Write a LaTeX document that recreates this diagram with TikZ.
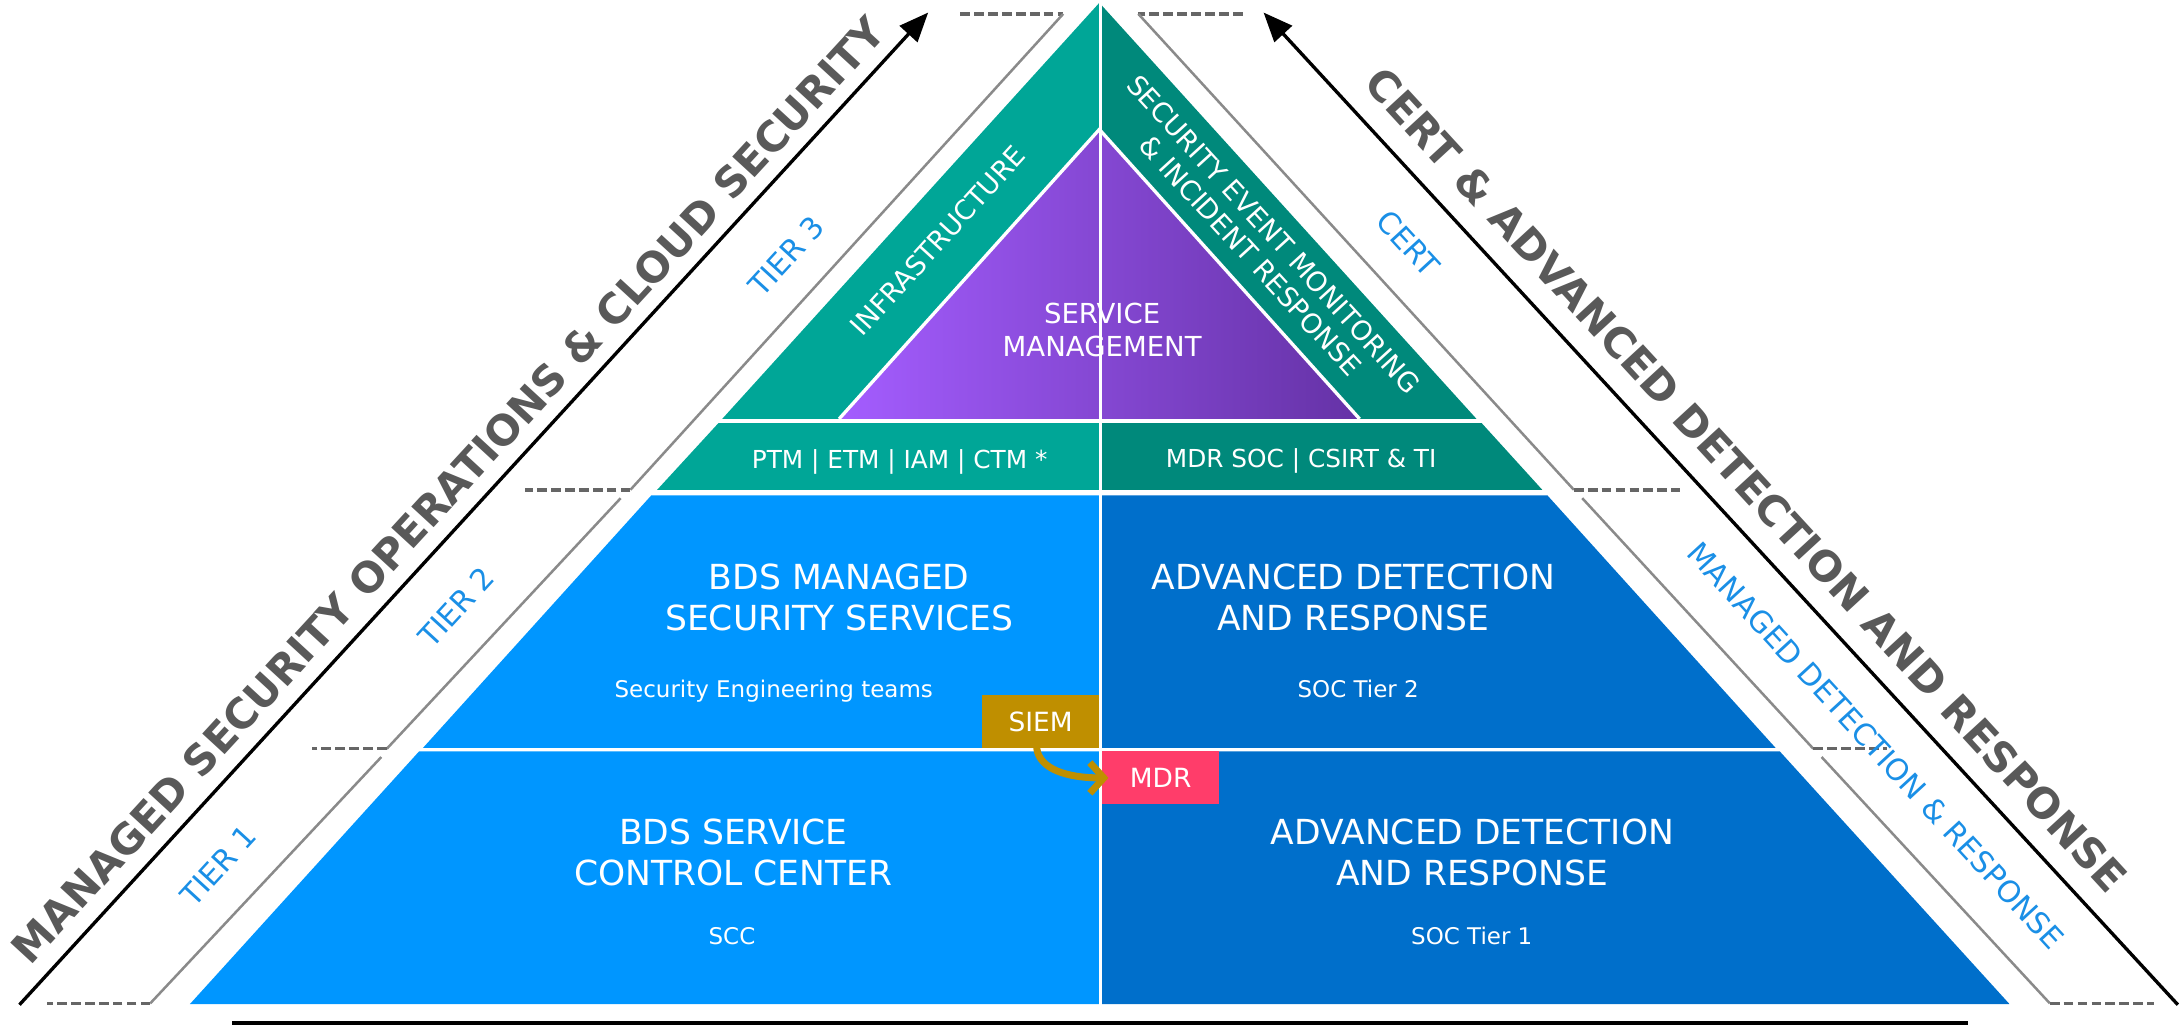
\documentclass[tikz,border=0pt]{standalone}
\usepackage{fontspec}
\setmainfont{DejaVu Sans}
\usetikzlibrary{arrows.meta}
\definecolor{blueL}{HTML}{0096FF}
\definecolor{blueR}{HTML}{006FCB}
\definecolor{tealL}{HTML}{00A697}
\definecolor{tealR}{HTML}{00897B}
\definecolor{purpleL}{HTML}{A45DFF}
\definecolor{purpleM}{HTML}{8A4AE2}
\definecolor{purpleR}{HTML}{6532A6}
\definecolor{siemgold}{HTML}{BF8F00}
\definecolor{mdrred}{HTML}{FF3D6A}
\definecolor{tierblue}{HTML}{1A8FE6}
\definecolor{titlegray}{HTML}{595959}
\definecolor{brgray}{HTML}{8A8A8A}
\definecolor{dashgray}{HTML}{666666}
\definecolor{baseline}{HTML}{404040}
\begin{document}
\begin{tikzpicture}[x=1pt,y=-1pt,
  boxtitle/.style={text=white, font={\fontsize{24.8}{29.5}\selectfont}, align=center, inner sep=0pt},
  boxsub/.style={text=white, font={\fontsize{16.5}{20}\selectfont}, inner sep=0pt, anchor=base},
  stripfont/.style={text=white, font={\fontsize{17.8}{20}\selectfont}, inner sep=0pt, anchor=base},
  bandtext/.style={text=white, font={\fontsize{19.5}{22.5}\selectfont}, align=center, inner sep=0pt},
  tierlbl/.style={text=tierblue, font={\fontsize{21.5}{24}\selectfont}, inner sep=0pt},
  bigtitle/.style={text=titlegray, font={\bfseries\fontsize{30}{36}\selectfont}, inner sep=0pt},
  tagbox/.style={text=white, font={\fontsize{19}{22}\selectfont}, minimum width=84.5pt, minimum height=38pt, inner sep=0pt},
  bracketline/.style={draw=brgray, line width=1.8pt},
  bracketdash/.style={draw=dashgray, line width=2.6pt, dash pattern=on 7pt off 3pt},
  mainarrow/.style={draw=black, line width=2.4pt, -{Triangle[length=21pt,width=17pt]}},
  sep/.style={draw=white, line width=2.4pt}
]
\useasboundingbox (0,0) rectangle (1568,737);

% ---- pyramid tiers ----
\fill[tealL] (790,2) -- (790,301) -- (519,301) -- cycle;
\fill[tealR] (790,2) -- (1061,301) -- (790,301) -- cycle;
\fill[tealL] (516.3,304) -- (790,304) -- (790,352) -- (472.2,352) -- cycle;
\fill[tealR] (790,304) -- (1064.7,304) -- (1108.3,352) -- (790,352) -- cycle;
\fill[blueL] (468,356) -- (790,356) -- (790,537.5) -- (303.9,537.5) -- cycle;
\fill[blueR] (790,356) -- (1112,356) -- (1276,537.5) -- (790,537.5) -- cycle;
\fill[blueL] (301.1,540) -- (790,540) -- (790,721.5) -- (136.5,721.5) -- cycle;
\fill[blueR] (790,540) -- (1279,540) -- (1444,721.5) -- (790,721.5) -- cycle;

% inner service management triangle
\shade[left color=purpleL, middle color=purpleM, right color=purpleR] (790,93) -- (977,301) -- (603,301) -- cycle;
\draw[sep, line join=miter] (603,301) -- (790,93) -- (977,301);
\draw[sep] (790.8,0) -- (790.8,722);

% ---- brackets left ----
\coordinate (l3a) at (690,10);  \coordinate (l3b) at (764,10);
\coordinate (l3c) at (453,352); \coordinate (l3d) at (377,352);
\draw[bracketdash] (l3a) -- (l3b);
\draw[bracketline] (l3b) -- (l3c);
\draw[bracketdash] (l3c) -- (l3d);
\coordinate (l2a) at (446,358); \coordinate (l2b) at (278,538); \coordinate (l2c) at (224,538);
\draw[bracketline] (l2a) -- (l2b);
\draw[bracketdash] (l2b) -- (l2c);
\coordinate (l1a) at (274,544); \coordinate (l1b) at (108,721); \coordinate (l1c) at (34,721);
\draw[bracketline] (l1a) -- (l1b);
\draw[bracketdash] (l1b) -- (l1c);
% ---- brackets right ----
\coordinate (r3a) at (893,10);  \coordinate (r3b) at (818,10);
\coordinate (r3c) at (1131,352); \coordinate (r3d) at (1207,352);
\draw[bracketdash] (r3a) -- (r3b);
\draw[bracketline] (r3b) -- (r3c);
\draw[bracketdash] (r3c) -- (r3d);
\coordinate (r2a) at (1137,358); \coordinate (r2b) at (1303,538); \coordinate (r2c) at (1356,538);
\draw[bracketline] (r2a) -- (r2b);
\draw[bracketdash] (r2b) -- (r2c);
\coordinate (r1a) at (1309,544); \coordinate (r1b) at (1473,721); \coordinate (r1c) at (1548,721);
\draw[bracketline] (r1a) -- (r1b);
\draw[bracketdash] (r1b) -- (r1c);

% ---- main arrows ----
\coordinate (la0) at (14,722);  \coordinate (la1) at (667,9);
\coordinate (ra0) at (1565,722); \coordinate (ra1) at (908,9);
\draw[mainarrow] (la0) -- (la1);
\draw[mainarrow] (ra0) -- (ra1);

% bottom rule
\coordinate (b0) at (167,735); \coordinate (b1) at (1414,735);
\draw[baseline, line width=2.6pt] (b0) -- (b1);

% ---- outer titles ----
\node[bigtitle, rotate=47.4] (ltitle) at (322,352) {MANAGED SECURITY OPERATIONS \& CLOUD SECURITY};
\node[bigtitle, rotate=-47.4] (rtitle) at (1255,345) {CERT \& ADVANCED DETECTION AND RESPONSE};

% ---- tier labels ----
\node[tierlbl, rotate=47.4] (t3) at (565,184) {TIER 3};
\node[tierlbl, rotate=47.4] (t2) at (328,436) {TIER 2};
\node[tierlbl, rotate=47.4] (t1) at (157,622) {TIER 1};
\node[tierlbl, rotate=-47.4] (cert) at (1012,175) {CERT};
\node[tierlbl, rotate=-47.4] (mdrlbl) at (1348,536) {MANAGED DETECTION \& RESPONSE};

% ---- top band texts ----
\node[bandtext, rotate=47.6] (infra) at (674,173) {INFRASTRUCTURE};
\node[bandtext, rotate=-47.6] (semir) at (907,176) {SECURITY EVENT MONITORING\\\& INCIDENT RESPONSE};
\node[text=white, font={\fontsize{19.8}{23.5}\selectfont}, align=center, inner sep=0pt] (sm) at (792,237) {SERVICE\\MANAGEMENT};

% ---- strip ----
\node[stripfont] (ptm) at (646.5,336.5) {PTM | ETM | IAM | CTM *};
\node[stripfont] (mdrsoc) at (935,336) {MDR SOC | CSIRT \& TI};

% ---- tier 2 ----
\node[boxtitle] (bdsmss) at (603,429) {BDS MANAGED\\SECURITY SERVICES};
\node[boxsub] (seteams) at (556,501.5) {Security Engineering teams};
\node[boxtitle] (adr2) at (972.5,429) {ADVANCED DETECTION\\AND RESPONSE};
\node[boxsub] (soc2) at (976,501) {SOC Tier 2};

% ---- tier 1 ----
\node[boxtitle] (bdsscc) at (527,612.5) {BDS SERVICE\\CONTROL CENTER};
\node[boxsub] (scc) at (526,679) {SCC};
\node[boxtitle] (adr1) at (1058,612.5) {ADVANCED DETECTION\\AND RESPONSE};
\node[boxsub] (soc1) at (1057.6,679) {SOC Tier 1};

% ---- SIEM -> MDR ----
\node[tagbox, fill=siemgold] (siem) at (747.75,518.5) {SIEM};
\node[tagbox, fill=mdrred] (mdr) at (834,559) {MDR};
\draw[siemgold, line width=5pt, line cap=round, line join=round, -{Straight Barb[length=10pt,width=22pt]}]
  ([xshift=-2.75pt]siem.south) .. controls +(2,15) and +(-30,0) .. ([xshift=5pt]mdr.west);
\end{tikzpicture}
\end{document}
